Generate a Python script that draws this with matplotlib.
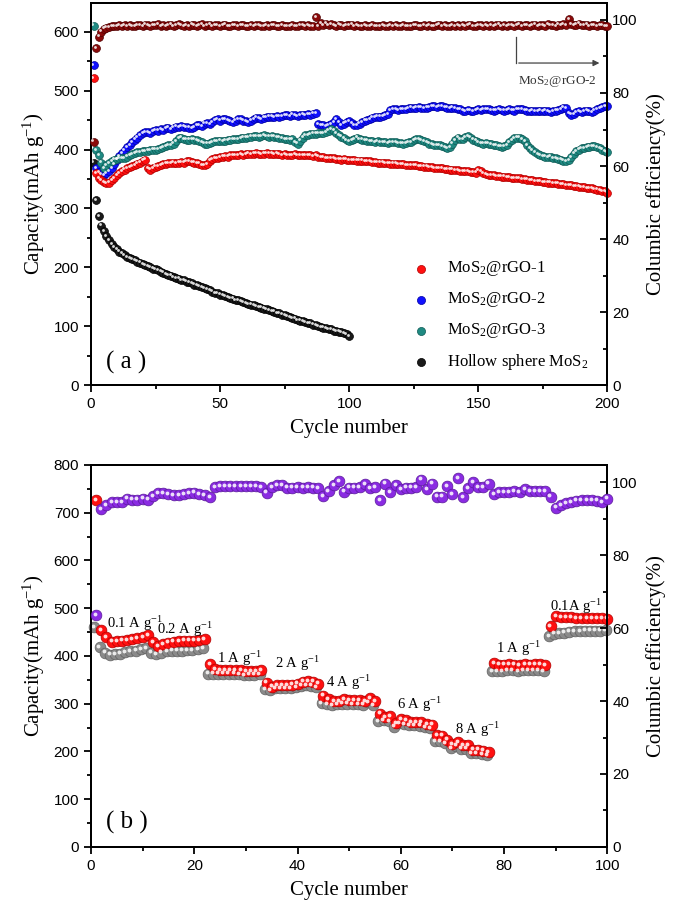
import matplotlib
matplotlib.use('Agg')
import matplotlib.pyplot as plt
import matplotlib.transforms as mtransforms
from matplotlib.ticker import MultipleLocator
import numpy as np

plt.rcParams['font.family'] = ['Liberation Sans', 'DejaVu Sans']
plt.rcParams['mathtext.fontset'] = 'custom'
plt.rcParams['mathtext.rm'] = 'Liberation Serif'
plt.rcParams['mathtext.it'] = 'Liberation Serif:italic'
SERIF = ['Liberation Serif', 'DejaVu Serif']

# ----------------------- (a) cycling data ------------------------
cap_rgo1 = [
    521, 360, 352, 348, 345, 343, 344, 348, 352, 356,
    360, 363, 366, 369, 370, 372, 373, 376, 378, 381,
    383, 368, 366, 369, 371, 372, 373, 375, 376, 377,
    377, 378, 377, 378, 379, 378, 380, 380, 379, 378,
    377, 376, 374, 373, 375, 381, 384, 386, 386, 387,
    388, 389, 388, 390, 391, 390, 391, 392, 391, 392,
    393, 392, 393, 394, 393, 392, 393, 394, 393, 393,
    392, 393, 392, 391, 392, 391, 390, 391, 392, 391,
    390, 391, 390, 391, 390, 389, 390, 388, 387, 387,
    386, 386, 385, 385, 384, 384, 383, 384, 383, 382,
    382, 382, 381, 381, 381, 380, 380, 380, 379, 379,
    378, 378, 378, 377, 377, 376, 376, 376, 375, 375,
    375, 374, 374, 373, 373, 373, 372, 372, 371, 371,
    370, 370, 369, 369, 368, 368, 367, 367, 366, 366,
    365, 365, 364, 364, 363, 363, 362, 362, 361, 365,
    363, 360, 358, 357, 356, 356, 355, 355, 354, 354,
    353, 353, 352, 352, 351, 351, 350, 350, 349, 348,
    348, 347, 346, 346, 345, 345, 344, 344, 343, 343,
    342, 341, 341, 340, 339, 339, 338, 338, 337, 336,
    336, 335, 334, 334, 333, 332, 331, 330, 329, 327]

cap_rgo2 = [
    543, 368, 362, 358, 357, 360, 364, 368, 375, 383,
    389, 394, 399, 404, 408, 412, 417, 420, 424, 428,
    429, 430, 428, 431, 433, 432, 434, 433, 436, 437,
    435, 437, 439, 438, 440, 439, 438, 437, 436, 438,
    441, 442, 440, 444, 445, 443, 446, 450, 451, 449,
    451, 452, 450, 448, 447, 449, 452, 451, 449, 448,
    446, 449, 452, 454, 453, 452, 454, 455, 456, 456,
    455, 457, 456, 457, 458, 458, 457, 459, 458, 457,
    458, 459, 458, 460, 459, 461, 462, 443, 442, 441,
    440, 442, 443, 446, 451, 446, 442, 444, 447, 448,
    445, 441, 442, 444, 446, 449, 450, 452, 454, 455,
    456, 456, 457, 458, 460, 467, 469, 468, 467, 469,
    468, 469, 470, 471, 470, 471, 472, 471, 470, 471,
    472, 473, 473, 472, 474, 473, 472, 471, 470, 471,
    470, 469, 468, 466, 465, 467, 466, 465, 467, 468,
    467, 468, 469, 468, 467, 466, 467, 468, 467, 466,
    467, 468, 467, 466, 468, 469, 468, 467, 466, 465,
    466, 465, 465, 466, 465, 466, 465, 464, 465, 466,
    467, 469, 471, 470, 462, 459, 460, 463, 465, 464,
    465, 466, 465, 464, 466, 468, 470, 472, 473, 474]

cap_rgo3 = [
    610, 399, 390, 378, 369, 373, 377, 380, 383, 384,
    385, 386, 386, 388, 390, 392, 394, 395, 396, 397,
    397, 398, 399, 400, 400, 401, 402, 404, 406, 407,
    408, 410, 414, 419, 420, 418, 417, 417, 418, 417,
    416, 414, 412, 410, 410, 411, 413, 414, 414, 415,
    414, 415, 416, 417, 418, 418, 418, 419, 420, 420,
    421, 422, 423, 423, 422, 423, 424, 423, 422, 423,
    422, 421, 420, 419, 418, 418, 417, 418, 412, 410,
    415, 420, 424, 425, 426, 427, 427, 428, 428, 428,
    430, 432, 434, 432, 428, 425, 422, 419, 416, 414,
    416, 418, 420, 418, 417, 416, 415, 414, 414, 413,
    414, 413, 412, 412, 411, 412, 413, 412, 411, 411,
    410, 411, 412, 413, 416, 418, 418, 416, 414, 412,
    410, 409, 408, 407, 407, 406, 404, 403, 404, 410,
    416, 420, 418, 418, 421, 423, 420, 417, 415, 413,
    411, 410, 411, 410, 409, 408, 407, 406, 405, 406,
    408, 412, 416, 419, 420, 420, 418, 414, 408, 403,
    399, 395, 392, 390, 389, 388, 387, 388, 386, 385,
    384, 383, 381, 380, 382, 387, 393, 397, 400, 402,
    403, 404, 405, 406, 406, 404, 402, 400, 397, 395]

cap_hollow = [
    378, 314, 287, 271, 262, 253, 246, 240, 235, 231,
    227, 224, 221, 218, 216, 214, 212, 210, 208, 206,
    204, 202, 200, 198, 197, 195, 193, 191, 189, 187,
    186, 184, 182, 181, 179, 178, 176, 175, 173, 171,
    170, 168, 166, 165, 163, 161, 159, 157, 156, 154,
    153, 151, 150, 148, 147, 145, 144, 143, 141, 140,
    138, 137, 136, 134, 133, 132, 130, 129, 127, 126,
    125, 123, 122, 120, 119, 117, 116, 114, 113, 111,
    110, 109, 107, 106, 105, 103, 102, 101, 99, 98,
    97, 96, 95, 93, 92, 91, 90, 88, 87, 84]

ce_rgo2 = [
    66.7, 92.2, 95.4, 96.8, 97.6, 97.9, 98.0, 98.3, 98.2, 98.4,
    98.5, 98.3, 98.6, 98.4, 98.5, 98.3, 98.4, 98.6, 98.5, 98.4,
    98.7, 98.5, 98.3, 98.6, 98.5, 98.8, 98.4, 98.6, 98.3, 98.5,
    98.7, 98.4, 98.5, 98.8, 98.5, 98.3, 98.6, 98.4, 98.7, 98.5,
    98.3, 98.6, 98.8, 98.4, 98.5, 98.7, 98.3, 98.5, 98.6, 98.4,
    98.5, 98.7, 98.4, 98.3, 98.6, 98.5, 98.4, 98.6, 98.5, 98.4,
    98.3, 98.5, 98.4, 98.6, 98.5, 98.4, 98.3, 98.5, 98.4, 98.6,
    98.5, 98.4, 98.3, 98.5, 98.4, 98.3, 98.4, 98.5, 98.3, 98.4,
    98.5, 98.6, 98.4, 98.5, 98.3, 98.4, 100.7, 98.2, 99.1, 98.6,
    99.0, 98.5, 98.8, 98.6, 98.4, 98.7, 98.5, 98.4, 98.6, 98.5,
    98.7, 98.4, 98.5, 98.3, 98.4, 98.5, 98.4, 98.3, 98.5, 98.4,
    98.3, 98.4, 98.5, 98.4, 98.3, 98.6, 98.4, 98.5, 98.3, 98.4,
    98.5, 98.4, 98.3, 98.4, 98.5, 98.6, 98.4, 98.3, 98.5, 98.4,
    98.6, 98.4, 98.3, 98.5, 98.7, 98.4, 98.5, 98.3, 98.4, 98.6,
    98.4, 98.5, 98.3, 98.6, 98.4, 98.5, 98.7, 98.4, 98.3, 98.5,
    98.6, 98.4, 98.5, 98.3, 98.6, 98.4, 98.5, 98.7, 98.4, 98.5,
    98.3, 98.6, 98.5, 98.4, 98.6, 98.7, 98.4, 98.5, 98.6, 98.4,
    98.5, 98.7, 98.4, 98.6, 98.5, 98.4, 98.8, 98.5, 98.6, 98.4,
    98.7, 98.5, 98.8, 98.6, 100.2, 98.9, 98.5, 98.7, 99.0, 98.6,
    98.5, 98.7, 98.4, 98.6, 98.5, 98.4, 98.6, 98.5, 98.3, 98.4]

legend_a = ['MoS$_2$@rGO-1', 'MoS$_2$@rGO-2', 'MoS$_2$@rGO-3', 'Hollow sphere MoS$_2$']

# ----------------------- (b) rate data ------------------------
rate_discharge = [
    727, 454, 439, 430, 431, 432, 433, 435, 437, 440, 444,
    429, 421, 425, 428, 430, 431, 432, 432, 432, 433, 436,
    383, 373, 371, 371, 371, 371, 370, 368, 369, 369, 370,
    344, 336, 339, 339, 339, 340, 342, 346, 347, 346, 342,
    317, 309, 305, 305, 310, 308, 307, 307, 306, 312, 305,
    279, 272, 274, 259, 267, 265, 262, 262, 261, 258, 256,
    234, 233, 225, 216, 220, 214, 213, 204, 204, 202, 199,
    385, 382, 382, 383, 382, 381, 383, 382, 383, 383, 381,
    462, 484, 482, 481, 481, 480, 480, 480, 479, 480, 480, 478]

rate_charge = [
    464, 421, 410, 406, 407, 408, 411, 413, 414, 417, 420,
    410, 407, 410, 413, 414, 414, 414, 415, 416, 417, 419,
    366, 366, 366, 366, 366, 366, 365, 363, 364, 364, 365,
    334, 332, 335, 335, 335, 336, 338, 341, 342, 341, 337,
    305, 302, 300, 302, 303, 303, 302, 302, 301, 306, 300,
    266, 268, 267, 255, 262, 260, 258, 258, 257, 254, 252,
    224, 225, 220, 210, 215, 209, 209, 200, 199, 198, 196,
    371, 372, 372, 373, 373, 372, 373, 373, 373, 373, 372,
    444, 450, 451, 452, 454, 455, 455, 456, 456, 456, 456, 457]

rate_ce = [
    63.5, 92.5, 93.7, 94.6, 94.6, 94.6, 95.5, 95.2, 95.2, 95.5, 95.2,
    96.1, 96.9, 96.9, 96.7, 96.4, 96.4, 96.7, 96.9, 97.1, 96.7, 96.4,
    95.8, 98.7, 98.9, 99.0, 98.9, 98.9, 98.8, 98.8, 98.8, 98.9, 98.7,
    97.1, 98.7, 99.2, 99.2, 98.5, 98.5, 98.7, 98.5, 98.7, 98.5, 98.3,
    96.2, 97.6, 99.2, 100.3, 97.4, 98.5, 98.5, 98.7, 99.4, 98.3, 98.7,
    95.1, 99.6, 97.3, 99.2, 98.0, 98.5, 98.5, 98.7, 100.7, 98.0, 99.6,
    96.0, 96.0, 98.9, 96.7, 101.0, 95.8, 98.3, 100.1, 98.7, 98.7, 99.6,
    96.7, 97.3, 97.3, 97.3, 97.6, 97.3, 98.0, 97.6, 97.6, 97.6, 97.6,
    96.0, 93.0, 93.7, 94.3, 94.6, 94.9, 95.1, 95.1, 95.1, 94.9, 94.6, 95.5]

rate_labels = ['0.1 A g$^{-1}$', '0.2 A g$^{-1}$', '1 A g$^{-1}$', '2 A g$^{-1}$',
               '4 A g$^{-1}$', '6 A g$^{-1}$', '8 A g$^{-1}$', '1 A g$^{-1}$', '0.1A g$^{-1}$']
rate_label_pos = [(3.1, 448), (12.8, 435), (24.4, 375), (35.6, 364),
                  (45.6, 324), (59.2, 278), (70.4, 226), (78.5, 395), (88.8, 483)]


def balls(ax, x, y, color, edge, s, zorder=3):
    # shaded sphere look: filled circle + small white highlight
    fig = ax.figure
    ax.scatter(x, y, s=s, c=color, edgecolors=edge, linewidths=0.5, zorder=zorder, clip_on=False)
    hl = mtransforms.offset_copy(ax.transData, fig=fig, x=-0.8, y=0.9, units='points')
    ax.scatter(x, y, s=s * 0.13, c='white', alpha=0.85, linewidths=0,
               transform=hl, zorder=zorder + 0.1, clip_on=False)


def style_axes(ax, ax2):
    for a in (ax, ax2):
        for sp in a.spines.values():
            sp.set_linewidth(1.4)
    ax.tick_params(which='both', direction='out', width=1.3, labelsize=11, top=False, right=False)
    ax.tick_params(which='major', length=5)
    ax.tick_params(which='minor', length=3)
    ax2.tick_params(which='both', direction='in', width=1.3, labelsize=11)
    ax2.tick_params(which='major', length=5)
    ax2.tick_params(which='minor', length=3)
    ax2.yaxis.set_major_locator(MultipleLocator(20))
    ax2.yaxis.set_minor_locator(MultipleLocator(10))
    ax2.set_ylim(0, 104.7)
    ax.set_ylabel('Capacity(mAh g$^{-1}$)', family=SERIF, fontsize=15, labelpad=5)
    ax2.set_ylabel('Columbic efficiency(%)', family=SERIF, fontsize=15, labelpad=6)
    ax.set_xlabel('Cycle number', family=SERIF, fontsize=15, labelpad=6)


fig = plt.figure(figsize=(6.75, 9.11), dpi=100)

# ----------------------- panel (a) ------------------------
ax = fig.add_axes([0.1348, 0.577, 0.765, 0.420])
ax2 = ax.twinx()
cyc = np.arange(1, len(cap_rgo1) + 1)
cyc_h = np.arange(1, len(cap_hollow) + 1)
s_a = 32
balls(ax, cyc_h, cap_hollow, '#1a1a1a', '#000000', s_a)
balls(ax, cyc, cap_rgo2, '#1010ff', '#0000a0', s_a)
balls(ax, cyc, cap_rgo3, '#1f8a82', '#0e5a55', s_a)
balls(ax, cyc, cap_rgo1, '#ff1010', '#b00000', s_a)
balls(ax2, cyc, ce_rgo2, '#8b0a0a', '#500000', s_a)

ax.set_xlim(0, 200)
ax.set_ylim(0, 649)
ax.xaxis.set_major_locator(MultipleLocator(50))
ax.xaxis.set_minor_locator(MultipleLocator(25))
ax.yaxis.set_major_locator(MultipleLocator(100))
ax.yaxis.set_minor_locator(MultipleLocator(50))
style_axes(ax, ax2)

# manual legend
leg_colors = [('#ff1010', '#b00000'), ('#1010ff', '#0000a0'), ('#1f8a82', '#0e5a55'), ('#1a1a1a', '#000000')]
for i, (lab, (c, e)) in enumerate(zip(legend_a, leg_colors)):
    yy = 0.305 - i * 0.081
    ax.scatter([0.639], [yy], s=34, c=c, edgecolors=e, linewidths=0.5, transform=ax.transAxes, zorder=5)
    ax.text(0.689, yy, lab, transform=ax.transAxes, family=SERIF, fontsize=12, va='center', ha='left')

ax.text(0.03, 0.06, '( a )', transform=ax.transAxes, family=SERIF, fontsize=18, va='center', ha='left')

# arrow pointing CE curve to right axis
ax2.plot([164.8, 164.8], [95.3, 88.2], color='#444444', lw=0.9)
ax2.annotate('', xy=(198, 88.2), xytext=(164.6, 88.2),
             arrowprops=dict(arrowstyle='-|>', color='#444444', lw=0.9, mutation_scale=9))
ax2.text(180.5, 83.2, 'MoS$_2$@rGO-2', family=SERIF, fontsize=9.5, color='#333333', ha='center', va='center')

# ----------------------- panel (b) ------------------------
bx = fig.add_axes([0.1348, 0.0703, 0.765, 0.4193])
bx2 = bx.twinx()
cyc_b = np.arange(1, len(rate_discharge) + 1)
s_b = 60
balls(bx, cyc_b - 0.35, np.array(rate_charge) - 3, '#8a8a8a', '#606060', s_b)
balls(bx, cyc_b, rate_discharge, '#ff1010', '#b00000', s_b)
balls(bx2, cyc_b, rate_ce, '#8a2be2', '#5a1a9a', s_b)

for lab, (xx, yy) in zip(rate_labels, rate_label_pos):
    bx.text(xx, yy, lab, family=SERIF, fontsize=10.5, ha='left', va='bottom')

bx.set_xlim(0, 100)
bx.set_ylim(0, 800)
bx.xaxis.set_major_locator(MultipleLocator(20))
bx.xaxis.set_minor_locator(MultipleLocator(10))
bx.yaxis.set_major_locator(MultipleLocator(100))
bx.yaxis.set_minor_locator(MultipleLocator(50))
style_axes(bx, bx2)
bx.text(0.03, 0.065, '( b )', transform=bx.transAxes, family=SERIF, fontsize=18, va='center', ha='left')

fig.savefig('out.png', dpi=100)
